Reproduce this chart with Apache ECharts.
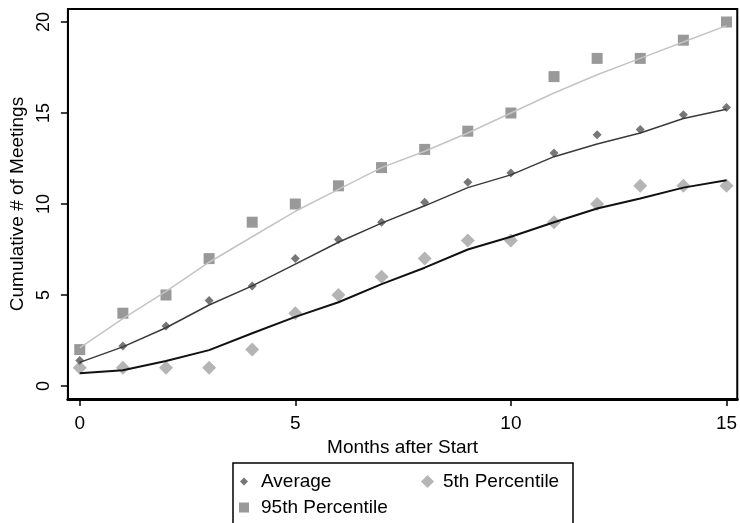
<!DOCTYPE html>
<html>
<head>
<meta charset="utf-8">
<script src="https://cdn.jsdelivr.net/npm/echarts@6/dist/echarts.min.js"></script>
<style>
  html, body { margin: 0; padding: 0; background: #fff; }
  #chart { width: 740px; height: 523px; }
</style>
</head>
<body>
<div id="chart"></div>
<script>
// months after start
const months = [0, 1, 2, 3, 4, 5, 6, 7, 8, 9, 10, 11, 12, 13, 14, 15]

// observed points
const average = [1.4, 2.2, 3.3, 4.7, 5.5, 7.0, 8.05, 9.0, 10.1, 11.2, 11.7, 12.8, 13.8, 14.1, 14.9, 15.3]
const pct5 = [1, 1, 1, 1, 2, 4, 5, 6, 7, 8, 8, 9, 10, 11, 11, 11]
const pct95 = [2, 4, 5, 7, 9, 10, 11, 12, 13, 14, 15, 17, 18, 18, 19, 20]

// fitted lines
const averageFit = [1.3, 2.15, 3.2, 4.45, 5.5, 6.7, 7.9, 8.95, 9.9, 10.9, 11.6, 12.6, 13.3, 13.9, 14.7, 15.2]
const pct5Fit = [0.7, 0.87, 1.37, 1.97, 2.9, 3.8, 4.6, 5.6, 6.5, 7.5, 8.2, 9.0, 9.75, 10.3, 10.9, 11.3]
const pct95Fit = [2.1, 3.7, 5.2, 6.8, 8.2, 9.6, 10.8, 12.0, 12.9, 13.9, 15.0, 16.1, 17.1, 18.0, 18.9, 19.8]

const xTicks = [0, 5, 10, 15]
const yTicks = [0, 5, 10, 15, 20]

const pairs = (ys) => months.map((m, i) => [m, ys[i]])

const chart = echarts.init(document.getElementById('chart'))
const font = 'Liberation Sans, Arial, sans-serif'

const legendBase = {
  orient: 'horizontal',
  padding: 0,
  itemGap: 0,
  selectedMode: false,
  textStyle: { fontFamily: font, fontSize: 19, color: '#000', padding: [0, 0, 0, 8] }
}

const option = {
  animation: false,
  backgroundColor: '#fff',
  grid: {
    left: 65,
    top: 9,
    right: -2,
    bottom: 124,
    show: true,
    borderColor: '#000',
    borderWidth: 2
  },
  xAxis: {
    type: 'value',
    min: -0.275,
    max: 15.25,
    name: 'Months after Start',
    nameLocation: 'middle',
    nameGap: 31,
    nameTextStyle: { fontFamily: font, fontSize: 19, color: '#000' },
    splitLine: { show: false },
    axisLine: { show: true, onZero: false, lineStyle: { color: '#000', width: 3 } },
    axisTick: { show: true, length: 7, customValues: xTicks, lineStyle: { color: '#000', width: 1.5 } },
    axisLabel: { customValues: xTicks, margin: 15, fontFamily: font, fontSize: 19, color: '#000' }
  },
  yAxis: {
    type: 'value',
    min: -0.714,
    max: 20.714,
    name: 'Cumulative # of Meetings',
    nameLocation: 'middle',
    nameGap: 38,
    nameTextStyle: { fontFamily: font, fontSize: 19, color: '#000' },
    splitLine: { show: false },
    axisLine: { show: true, onZero: false, lineStyle: { color: '#000', width: 2 } },
    axisTick: { show: true, length: 7, customValues: yTicks, lineStyle: { color: '#000', width: 1.5 } },
    axisLabel: { customValues: yTicks, rotate: 90, margin: 15, fontFamily: font, fontSize: 18, color: '#000' }
  },
  legend: [
    Object.assign({}, legendBase, {
      left: 240, top: 472,
      itemWidth: 8, itemHeight: 8,
      data: [{ name: 'Average', icon: 'diamond' }]
    }),
    Object.assign({}, legendBase, {
      left: 421, top: 472,
      itemWidth: 13, itemHeight: 13,
      textStyle: Object.assign({}, legendBase.textStyle, { padding: [0, 0, 0, 4] }),
      data: [{ name: '5th Percentile', icon: 'diamond' }]
    }),
    Object.assign({}, legendBase, {
      left: 239, top: 498,
      itemWidth: 10, itemHeight: 10,
      textStyle: Object.assign({}, legendBase.textStyle, { padding: [0, 0, 0, 7] }),
      data: [{ name: '95th Percentile', icon: 'rect' }]
    })
  ],
  graphic: [{
    type: 'rect',
    shape: { x: 233, y: 463, width: 340, height: 80 },
    style: { fill: 'none', stroke: '#000', lineWidth: 1.5 },
    z: 10
  }],
  series: [
    {
      name: '95th Percentile', type: 'scatter', symbol: 'rect', symbolSize: 11,
      itemStyle: { color: '#808080' }, data: pairs(pct95)
    },
    {
      name: '5th Percentile', type: 'scatter', symbol: 'diamond', symbolSize: 14,
      itemStyle: { color: '#a3a3a3' }, data: pairs(pct5)
    },
    {
      name: 'Average', type: 'scatter', symbol: 'diamond', symbolSize: 9,
      itemStyle: { color: '#555555' }, data: pairs(average)
    },
    {
      name: '95th fit', type: 'line', showSymbol: false, symbol: 'none',
      lineStyle: { color: '#c4c4c4', width: 1.5 }, data: pairs(pct95Fit)
    },
    {
      name: 'Average fit', type: 'line', showSymbol: false, symbol: 'none',
      lineStyle: { color: '#3a3a3a', width: 1.5 }, data: pairs(averageFit)
    },
    {
      name: '5th fit', type: 'line', showSymbol: false, symbol: 'none',
      lineStyle: { color: '#111', width: 2 }, data: pairs(pct5Fit)
    }
  ]
}

chart.setOption(option)
</script>
</body>
</html>
